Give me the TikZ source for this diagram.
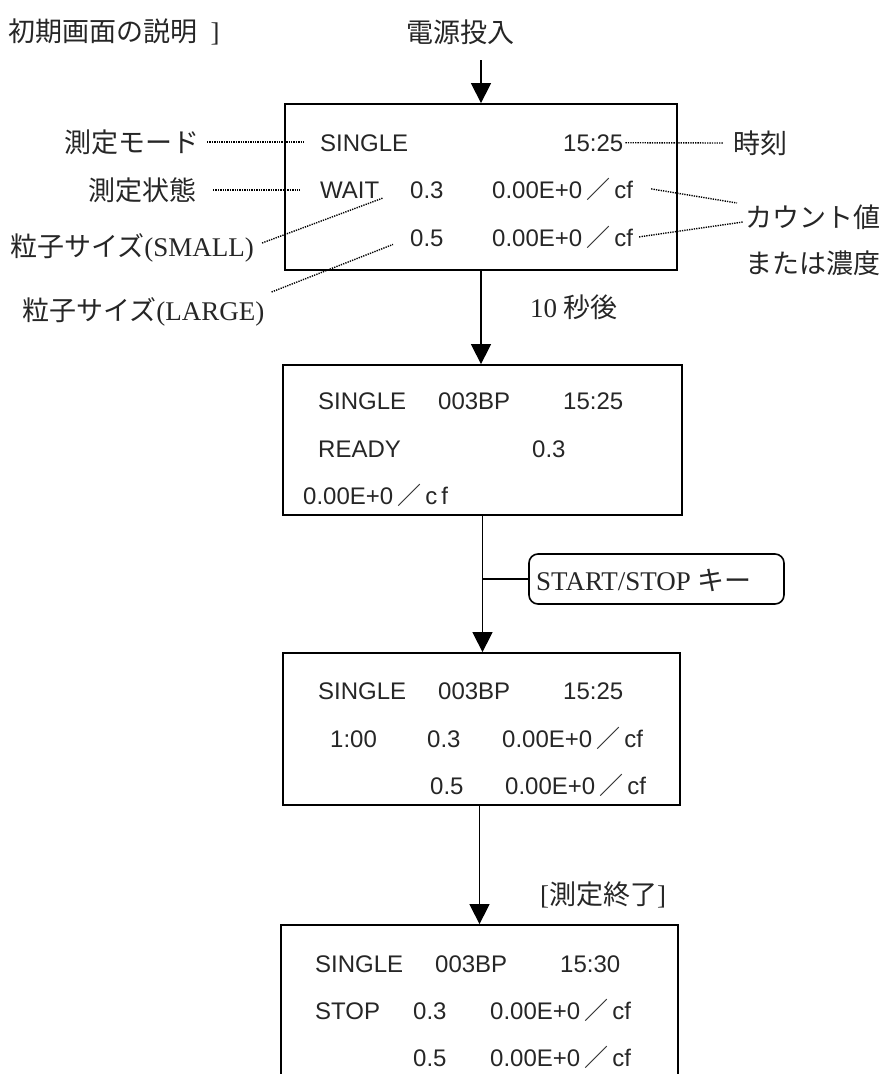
\documentclass[tikz,border=0pt]{standalone}
\usepackage{fontspec}
\setmainfont{Liberation Serif}
\setsansfont{Liberation Sans}
\newfontfamily\jp{Noto Sans CJK JP}
\usetikzlibrary{arrows.meta}
\begin{document}
\begin{tikzpicture}[x=1pt,y=-1pt,
  scr/.style={draw, line width=1.8pt, inner sep=0pt},
  lbl/.style={font=\fontsize{27}{30}\selectfont, inner sep=0pt, text=black!85},
  tx/.style={font=\sffamily\fontsize{24}{28}\selectfont, inner sep=0pt, anchor=base west, text=black!85},
  arr/.style={line width=1.4pt, -{Triangle[width=20pt,length=20pt]}},
  con/.style={line width=1.4pt},
  dot/.style={line width=1.4pt, dash pattern=on 1.3pt off 1.1pt},
  keybox/.style={draw, line width=1.6pt, rounded corners=9pt}
]
\useasboundingbox (0,0) rectangle (884,1074);
\clip (0,0) rectangle (884,1074);
\newcommand{\cfv}{0.00E+0\,{\jp ／}\,cf}

% screens
\node[scr, minimum width=392pt, minimum height=166pt] (b1) at (481,187) {};
\node[scr, minimum width=399pt, minimum height=150pt] (b2) at (482.5,440) {};
\node[scr, minimum width=397pt, minimum height=152pt] (b3) at (481.5,729) {};
\node[scr, minimum width=397pt, minimum height=275pt] (b4) at (479.5,1062.5) {};

% box 1 text
\node[tx] (s1) at (320,151) {SINGLE};
\node[tx] (t1) at (563,151) {15:25};
\node[tx] (w1) at (320,198) {WAIT};
\node[tx] (a1) at (410,198) {0.3};
\node[tx] (c1) at (492,198) {\cfv};
\node[tx] (a2) at (410,246) {0.5};
\node[tx] (c2) at (492,246) {\cfv};

% box 2 text
\node[tx] (s2) at (318,409) {SINGLE};
\node[tx] (p2) at (438,409) {003BP};
\node[tx] (t2) at (563,409) {15:25};
\node[tx] (r2) at (318,457) {READY};
\node[tx] (a3) at (532,457) {0.3};
\node[tx] (c3) at (303,504) {0.00E+0\,{\jp ／}\,c\,f};

% box 3 text
\node[tx] (s3) at (318,699) {SINGLE};
\node[tx] (p3) at (438,699) {003BP};
\node[tx] (t3) at (563,699) {15:25};
\node[tx] (m3) at (330,747) {1:00};
\node[tx] (a4) at (427,747) {0.3};
\node[tx] (c4) at (502,747) {\cfv};
\node[tx] (a5) at (430,794) {0.5};
\node[tx] (c5) at (505,794) {\cfv};

% box 4 text
\node[tx] (s4) at (315,972) {SINGLE};
\node[tx] (p4) at (435,972) {003BP};
\node[tx] (t4) at (560,972) {15:30};
\node[tx] (st4) at (315,1019) {STOP};
\node[tx] (a6) at (413,1019) {0.3};
\node[tx] (c6) at (490,1019) {\cfv};
\node[tx] (a7) at (413,1066) {0.5};
\node[tx] (c7) at (490,1066) {\cfv};

% labels
\node[lbl, anchor=west] (title) at (8,32) {{\jp 初期画面の説明}\ \ ]};
\node[lbl] (power) at (460,32) {\jp 電源投入};
\node[lbl, anchor=east] (mode) at (200,142) {\jp 測定モード};
\node[lbl, anchor=east] (state) at (197,190) {\jp 測定状態};
\node[lbl, anchor=west] (small) at (10,248) {{\jp 粒子サイズ}(SMALL)};
\node[lbl, anchor=west] (large) at (22,312) {{\jp 粒子サイズ}(LARGE)};
\node[lbl, anchor=west] (time) at (733,143) {\jp 時刻};
\node[lbl, anchor=west] (cnt) at (745,217) {\jp カウント値};
\node[lbl, anchor=west] (conc) at (745,263) {\jp または濃度};
\node[lbl, anchor=west] (ten) at (530,307) {10 {\jp 秒後}};
\node[lbl, anchor=west] (fin) at (540,895) {[{\jp 測定終了}]};
\node[keybox, minimum width=255pt, minimum height=50pt] (key) at (656.5,579) {};
\node[lbl, anchor=west] (keyt) at (536,580) {START/STOP {\jp キー}};

% arrows
\coordinate (p0) at (481,60);
\draw[arr] (p0) -- (b1.north);
\draw[arr] (b1.south) -- (b1.south |- b2.north);
\draw[arr] (b2.south) -- (b2.south |- b3.north);
\draw[con] (b2.south |- key.west) -- (key.west);
\draw[arr] (b4.north |- b3.south) -- (b4.north);

% dotted leaders
\coordinate (d1) at (305,142);
\draw[dot] ([xshift=7pt]mode.east) -- (d1);
\draw[dot] ([xshift=2pt]t1.east) -- ([xshift=-10pt]time.west);
\coordinate (d2) at (300,190);
\draw[dot] ([xshift=16pt]state.east) -- (d2);
\draw[dot] ([xshift=8pt,yshift=5pt]small.east) -- ([xshift=3pt]w1.south east);
\draw[dot] ([xshift=7pt,yshift=20pt]large.east) -- ([xshift=-17pt,yshift=2pt]a2.south west);
\draw[dot] ([xshift=18pt]c1.east) -- ([xshift=-8pt,yshift=14pt]cnt.west);
\draw[dot] ([xshift=6pt]c2.east) -- ([xshift=-2pt,yshift=-5pt]cnt.west);
\end{tikzpicture}
\end{document}
